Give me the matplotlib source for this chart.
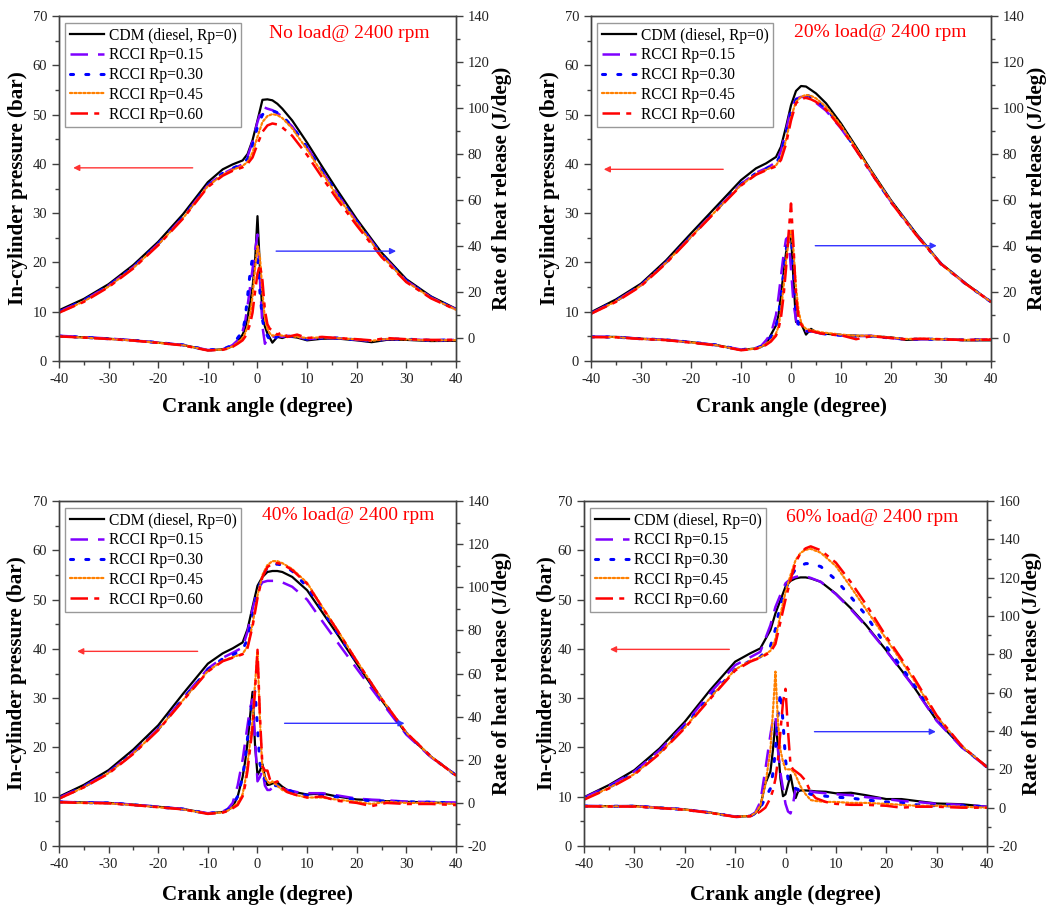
import matplotlib
matplotlib.use("Agg")
import matplotlib.pyplot as plt
from matplotlib.ticker import MultipleLocator

plt.rcParams["font.family"] = ["Liberation Serif", "DejaVu Serif"]
plt.rcParams["axes.unicode_minus"] = False

# crank angle grids (degree)
p_x = [-40, -35, -30, -25, -20, -15, -10, -7, -5, -3, -2, -1, 0, 1, 2, 3, 4, 5, 7, 10,
       13, 16, 20, 25, 30, 35, 40]
h_x = [-40, -35, -30, -25, -20, -15, -10, -7, -6, -5, -4, -3, -2.5, -2, -1.5, -1, -0.5, 0,
       0.5, 1, 1.5, 2, 2.5, 3, 4, 5, 6, 8, 10, 13, 16, 20, 23, 26, 30, 35, 40]

labels = ["CDM (diesel, Rp=0)", "RCCI Rp=0.15", "RCCI Rp=0.30", "RCCI Rp=0.45", "RCCI Rp=0.60"]
titles = ["No load@ 2400 rpm", "20% load@ 2400 rpm", "40% load@ 2400 rpm", "60% load@ 2400 rpm"]

# in-cylinder pressure (bar), rows: CDM, Rp=0.15, 0.30, 0.45, 0.60
p_noload = [
    [10.3, 12.6, 15.6, 19.5, 24.2, 29.8, 36.3, 38.9, 39.9, 40.7, 42.0, 44.8, 48.8, 53.0, 53.1, 52.9, 52.2, 51.2, 48.8, 44.3, 39.5, 34.8, 28.8, 22.0, 16.6, 13.1, 10.6],
    [10.0, 12.3, 15.3, 19.1, 23.8, 29.2, 35.7, 38.0, 39.0, 39.9, 41.5, 44.5, 48.5, 51.6, 51.2, 50.9, 50.3, 49.6, 47.6, 43.4, 38.6, 34.0, 28.3, 21.6, 16.3, 12.9, 10.5],
    [10.0, 12.3, 15.3, 19.1, 23.8, 29.2, 35.7, 38.1, 39.1, 40.0, 41.0, 43.8, 47.5, 50.0, 50.6, 50.8, 50.4, 49.7, 47.6, 43.3, 38.6, 34.0, 28.3, 21.6, 16.3, 12.9, 10.5],
    [9.8, 12.1, 15.1, 18.9, 23.6, 29.0, 35.5, 37.8, 38.8, 39.6, 40.4, 42.3, 45.5, 48.5, 49.7, 50.1, 49.9, 49.3, 47.2, 42.9, 38.2, 33.6, 28.0, 21.4, 16.1, 12.8, 10.4],
    [9.8, 12.0, 15.0, 18.8, 23.5, 28.9, 35.3, 37.6, 38.6, 39.3, 40.0, 41.3, 44.0, 46.5, 47.8, 48.2, 48.0, 47.4, 45.7, 41.8, 37.3, 32.9, 27.5, 21.1, 16.0, 12.7, 10.4],
]
p_load20 = [
    [9.9, 12.5, 15.7, 20.4, 25.9, 31.3, 36.7, 39.1, 40.1, 41.4, 43.5, 47.5, 51.9, 54.8, 55.8, 55.7, 55.0, 54.3, 52.3, 48.2, 43.5, 38.7, 32.6, 25.9, 19.8, 15.7, 12.0],
    [9.7, 12.2, 15.4, 20.0, 25.3, 30.6, 35.9, 38.2, 39.1, 40.3, 42.6, 46.8, 51.2, 53.2, 53.6, 53.5, 53.0, 52.4, 50.8, 47.2, 42.9, 38.3, 32.3, 25.7, 19.7, 15.6, 12.0],
    [9.7, 12.2, 15.4, 20.0, 25.3, 30.6, 35.9, 38.1, 39.0, 40.0, 42.0, 46.0, 50.5, 53.0, 53.8, 54.0, 53.6, 53.0, 51.3, 47.5, 43.0, 38.3, 32.3, 25.7, 19.7, 15.6, 12.0],
    [9.6, 12.1, 15.3, 19.9, 25.2, 30.5, 35.7, 37.9, 38.8, 39.7, 41.2, 44.8, 49.5, 52.6, 53.6, 54.0, 53.8, 53.3, 51.6, 47.8, 43.2, 38.5, 32.4, 25.7, 19.7, 15.6, 12.0],
    [9.6, 12.0, 15.2, 19.8, 25.1, 30.4, 35.6, 37.8, 38.7, 39.5, 40.8, 44.0, 48.8, 52.3, 53.2, 53.4, 53.1, 52.6, 51.0, 47.3, 42.8, 38.2, 32.2, 25.6, 19.7, 15.6, 12.0],
]
p_load40 = [
    [10.0, 12.4, 15.4, 19.6, 24.5, 30.9, 37.0, 39.1, 40.1, 41.3, 44.0, 48.5, 52.8, 54.6, 55.6, 55.8, 55.8, 55.6, 54.6, 51.9, 47.5, 43.1, 37.0, 29.6, 22.8, 18.1, 14.4],
    [9.8, 12.1, 15.0, 19.0, 23.8, 30.0, 36.0, 38.2, 39.2, 40.3, 43.5, 48.0, 52.0, 53.5, 53.8, 53.8, 53.8, 53.5, 52.6, 50.0, 45.7, 41.5, 36.0, 29.2, 22.6, 18.0, 14.4],
    [9.7, 12.0, 14.9, 18.9, 23.7, 29.8, 35.8, 38.0, 38.8, 39.8, 42.0, 46.5, 51.5, 54.8, 56.5, 57.0, 57.2, 57.0, 55.8, 52.6, 48.0, 43.4, 37.3, 29.8, 22.9, 18.1, 14.3],
    [9.6, 11.9, 14.8, 18.8, 23.6, 29.6, 35.5, 37.6, 38.3, 39.0, 40.5, 45.0, 50.8, 55.0, 57.0, 57.8, 57.8, 57.4, 56.2, 53.4, 48.6, 44.0, 37.6, 29.9, 23.0, 18.1, 14.3],
    [9.6, 11.9, 14.7, 18.7, 23.5, 29.5, 35.4, 37.5, 38.2, 38.9, 40.2, 44.5, 50.3, 54.6, 56.6, 57.3, 57.4, 57.2, 56.0, 53.2, 48.5, 43.9, 37.5, 29.9, 23.0, 18.1, 14.3],
]
p_load60 = [
    [9.9, 12.4, 15.4, 19.8, 25.2, 31.6, 37.4, 39.1, 40.1, 43.8, 47.2, 49.9, 52.6, 53.8, 54.3, 54.5, 54.5, 54.3, 53.6, 51.2, 48.2, 44.8, 39.7, 33.0, 25.5, 20.1, 16.1],
    [9.8, 12.2, 15.1, 19.4, 24.7, 31.0, 36.7, 38.3, 39.4, 44.8, 48.5, 51.0, 53.3, 54.2, 54.6, 54.8, 54.7, 54.4, 53.6, 51.1, 48.0, 44.6, 39.6, 32.9, 25.4, 20.0, 16.0],
    [9.6, 11.9, 14.8, 19.0, 24.3, 30.3, 35.8, 37.6, 38.4, 40.5, 44.0, 49.0, 52.0, 54.6, 56.2, 56.9, 57.3, 57.3, 56.7, 54.0, 50.5, 46.8, 40.5, 33.5, 26.0, 20.2, 16.0],
    [9.5, 11.8, 14.6, 18.8, 24.0, 30.0, 35.8, 37.6, 38.3, 39.6, 42.0, 47.0, 51.5, 55.0, 58.0, 59.5, 60.1, 60.3, 59.5, 56.8, 52.5, 48.0, 42.0, 34.5, 26.3, 20.3, 16.0],
    [9.4, 11.7, 14.5, 18.7, 23.9, 29.8, 35.6, 37.4, 38.2, 39.3, 41.0, 45.5, 50.0, 54.0, 57.5, 59.5, 60.4, 60.8, 60.0, 57.5, 53.5, 49.0, 42.5, 35.0, 26.5, 20.3, 16.0],
]

# rate of heat release (J/deg), rows: CDM, Rp=0.15, 0.30, 0.45, 0.60
h_noload = [
    [0.8, 0.3, -0.3, -1.0, -2.0, -3.0, -5.3, -4.9, -4.4, -3.5, -1.5, 1.5, 4, 9, 15, 22, 33, 53, 30, 10, 5, 2, 0, -2, 0.5, 0, 0.8, 0.2, -1, -0.3, -0.2, -1, -1.8, -0.8, -0.8, -1.3, -1.2],
    [1.0, 0.4, -0.2, -1.0, -2.0, -3.0, -5.2, -4.8, -4.2, -3.0, -1, 3, 7, 14, 22, 30, 38, 45, 25, 5, -2.5, 0, 1, 0.5, 1, 0.5, 1, 0.5, -0.5, 0, 0, -0.8, -1.2, -0.5, -0.5, -1, -0.8],
    [0.8, 0.3, -0.3, -1.0, -2.0, -3.0, -5.2, -4.8, -4.0, -2.8, 0, 3, 8, 18, 28, 35, 36, 34, 20, 8, 3, 1, -1, -2, 1, 0, 0.8, 0.5, -0.5, 0, 0, -0.8, -1.3, -0.5, -0.5, -1, -0.8],
    [0.7, 0.2, -0.4, -1.1, -2.1, -3.1, -5.3, -5.0, -4.5, -3.6, -2, 0, 2, 5, 10, 18, 30, 40, 35, 20, 8, 4, 2, 1, 1.5, 1, 1, 0.5, 0, 0.3, 0, -0.6, -1.2, -0.4, -0.6, -1, -0.9],
    [0.7, 0.2, -0.4, -1.1, -2.1, -3.2, -5.4, -5.1, -4.6, -3.8, -2.5, -1, 0.5, 3, 6, 11, 20, 28, 32, 25, 12, 6, 4, 3.5, 1.5, 2.5, 0.5, 1.5, 0, 0.5, 0, -0.5, -1, 0, -0.5, -0.8, -0.8],
]
h_load20 = [
    [0.5, 0.5, -0.3, -0.8, -1.8, -3.0, -5.2, -4.5, -3.8, -2.8, 1.5, 5.5, 10, 19, 28, 37, 42, 45, 25, 7, 6.8, 6.5, 4, 1.5, 4, 2.5, 2, 1.7, 1.3, 1.0, 0.8, 0.3, -0.8, -0.5, -0.5, -1.0, -1.0],
    [0.6, 0.5, -0.3, -0.8, -1.8, -3.0, -5.0, -4.3, -3.5, -1, 2, 10, 18, 27, 36, 43, 44, 30, 15, 8, 5, 4, 3.5, 3, 3, 2.5, 2, 1.5, 1.2, 0.8, 1, 0, -0.5, -0.5, -0.5, -0.8, -0.5],
    [0.5, 0.4, -0.3, -0.8, -1.8, -3.0, -5.1, -4.4, -3.7, -2, 0.5, 5, 10, 18, 28, 38, 44, 46, 30, 12, 6, 4, 3.5, 3, 3, 2.5, 2, 1.5, 1.2, 0.8, 0.8, 0, -0.5, -0.5, -0.5, -0.8, -0.6],
    [0.5, 0.4, -0.4, -0.9, -1.9, -3.1, -5.2, -4.6, -3.9, -2.5, -1, 2, 5, 12, 22, 33, 42, 47, 38, 22, 12, 7, 5, 4, 3.5, 3, 2.5, 2, 1.5, 1, 1, 0.2, -0.4, -0.3, -0.5, -0.8, -0.6],
    [0.4, 0.3, -0.4, -0.9, -2.0, -3.2, -5.3, -4.7, -4.0, -3, -1.5, 1, 4, 9, 18, 30, 45, 58.5, 40, 18, 9, 6, 4.5, 3.5, 3, 2.5, 2, 1.5, 1.2, -0.5, 0.8, 0, -0.6, -0.3, -0.5, -0.9, -0.7],
]
h_load40 = [
    [0.5, 0.2, 0, -0.8, -1.8, -2.8, -4.9, -4.2, -3.3, -1.8, 2.9, 12, 19, 28, 40, 51.5, 27, 13, 15, 18, 12, 8.3, 8.5, 9, 9.5, 7.5, 6, 4.8, 3.9, 4.4, 3.0, 1.6, 1.3, 0.8, 0.5, 0.2, -0.2],
    [0.5, 0.2, 0, -0.8, -1.8, -2.8, -4.8, -4.0, -2.8, 0, 8, 20, 28, 36, 44, 48, 30, 10, 12, 15, 8, 6, 6, 7, 7, 6.5, 6, 5, 4.5, 4.5, 3.5, 2.0, 1.5, 1.2, 0.6, 0.4, 0.2],
    [0.4, 0.1, 0, -0.9, -1.9, -2.9, -4.9, -4.2, -3.2, -1, 3, 12, 20, 30, 40, 48, 52, 35, 18, 14, 11, 9, 8, 8, 8, 7, 6, 4.5, 3.5, 3.5, 2.8, 1.5, 1, 0.8, 0.5, 0.3, 0],
    [0.3, 0, -0.2, -1.0, -2.0, -3.0, -5.0, -4.4, -3.6, -2, 0, 4, 10, 18, 28, 38, 55, 70, 38, 15, 12, 10, 9, 10, 8, 6, 5, 3.5, 2.5, 2.5, 1.5, 0.5, -0.5, 0.5, 0, 0, -0.5],
    [0.3, 0, -0.2, -1.0, -2.0, -3.0, -5.1, -4.5, -3.8, -2.5, -1, 3, 8, 15, 25, 35, 52, 71, 40, 17, 15, 15, 11, 9, 10, 7, 5, 3.5, 2.5, 3, 1, 0, -1.5, 0, -0.5, -0.5, -1],
]
h_load60 = [
    [0.9, 0.8, 0.9, 0, -0.9, -2.5, -4.7, -4.4, -3.0, 0.5, 12.7, 18.8, 30, 45, 32, 15, 6, 7, 12, 17, 10, 5, 8.5, 9, 9, 8.8, 8.5, 8.3, 7.5, 7.8, 6.5, 4.5, 4.5, 3.5, 2.2, 1.8, 0.5],
    [0.9, 0.8, 0.8, 0, -0.9, -2.5, -4.6, -4.2, -2.5, 3, 20, 38, 46, 48, 30, 18, 10, 2, -2, -3, 2, 10, 9, 8.5, 8.5, 8.5, 8, 7.5, 7, 6.5, 5.5, 4.5, 3.5, 3, 2, 1.5, 0.5],
    [0.8, 0.7, 0.8, -0.1, -1.0, -2.6, -4.7, -4.4, -3.0, 0, 5, 10, 18, 30, 48, 60, 45, 25, 15, 12, 11, 10, 9.5, 9, 8, 7, 6.5, 6, 5.5, 5, 4, 3, 2.5, 1.5, 1, 1, 0.5],
    [0.8, 0.7, 0.7, -0.1, -1.0, -2.6, -4.7, -4.3, -2.8, 1, 12, 30, 50, 71, 45, 30, 24, 20, 20, 20, 19, 17, 14, 11, 7, 4, 3.5, 3, 3, 2.5, 2.5, 2, 1.5, 1, 1, 0.5, 0],
    [0.7, 0.6, 0.6, -0.2, -1.1, -2.7, -4.8, -4.5, -3.5, -2, 0, 5, 9, 15, 25, 40, 55, 62, 40, 22, 20, 19, 18, 17, 14, 8, 5, 3, 2, 1.5, 1.5, 1, 0, 0.5, 0.5, 0, 0],
]

pressures = [p_noload, p_load20, p_load40, p_load60]
hrrs = [h_noload, h_load20, h_load40, h_load60]
hrr_lims = [(-10, 140), (-10, 140), (-20, 140), (-20, 160)]
# arrows (x_start, x_end, y) in pressure units
red_arrows = [(-12.5, -37.7, 39.2), (-13.0, -38.0, 38.9), (-11.5, -36.9, 39.5), (-10.6, -35.4, 39.9)]
blue_arrows = [(3.2, 28.5, 22.3), (4.3, 29.7, 23.4), (4.9, 30.2, 24.9), (5.2, 30.4, 23.2)]

colors = ["black", "#7F00FF", "#0000FF", "#FF8000", "#FF0000"]
styles = ["-", (0, (7, 4)), (0, (1, 4)), (0, (1, 1)), (0, (7, 2.5, 2, 2.5))]
widths = [1.6, 1.8, 2.2, 1.6, 1.8]

boxes = [
    [0.0558, 0.6015, 0.3756, 0.3808],
    [0.5591, 0.6015, 0.3785, 0.3808],
    [0.0558, 0.0662, 0.3756, 0.3808],
    [0.5525, 0.0662, 0.3813, 0.3808],
]
title_pos = [(0.731, 0.95), (0.723, 0.953), (0.728, 0.957), (0.715, 0.953)]
ylab_x = [(-0.078, 1.091), (-0.0775, 1.089), (-0.080, 1.090), (-0.068, 1.086)]
xlab_y = [-0.104, -0.104, -0.113, -0.113]

spine_col = "#404040"

fig = plt.figure(figsize=(10.57, 9.06), dpi=100)

for i in range(4):
    ax = fig.add_axes(boxes[i])
    ax2 = ax.twinx()

    handles = []
    for k in range(5):
        cap = "round" if k in (2, 3) else "butt"
        ln, = ax.plot(p_x, pressures[i][k], color=colors[k], ls=styles[k], lw=widths[k],
                      dash_capstyle=cap)
        ax2.plot(h_x, hrrs[i][k], color=colors[k], ls=styles[k], lw=widths[k],
                 dash_capstyle=cap)
        handles.append(ln)

    ax.set_xlim(-40, 40)
    ax.set_ylim(0, 70)
    ax2.set_ylim(*hrr_lims[i])

    ax.xaxis.set_major_locator(MultipleLocator(10))
    ax.xaxis.set_minor_locator(MultipleLocator(5))
    ax.yaxis.set_major_locator(MultipleLocator(10))
    ax.yaxis.set_minor_locator(MultipleLocator(5))
    ax2.yaxis.set_major_locator(MultipleLocator(20))
    ax2.yaxis.set_minor_locator(MultipleLocator(10))

    for a in (ax, ax2):
        a.tick_params(which="major", direction="out", length=5, width=1,
                      color=spine_col, labelsize=10.5, labelcolor="#222222")
        a.tick_params(which="minor", direction="out", length=3, width=1, color=spine_col)
        for s in a.spines.values():
            s.set_color(spine_col)
            s.set_linewidth(1.0)

    ax.set_xlabel("Crank angle (degree)", fontsize=15.2, fontweight="bold")
    ax.set_ylabel("In-cylinder pressure (bar)", fontsize=15.2, fontweight="bold")
    ax2.set_ylabel("Rate of heat release (J/deg)", fontsize=15.2, fontweight="bold")
    ax.xaxis.set_label_coords(0.5, xlab_y[i])
    ax.yaxis.set_label_coords(ylab_x[i][0], 0.5)
    ax2.yaxis.set_label_coords(ylab_x[i][1], 0.5)

    ax.text(title_pos[i][0], title_pos[i][1], titles[i], transform=ax.transAxes,
            color="#FF0000", fontsize=14, ha="center", va="center", zorder=10)

    rx0, rx1, ry = red_arrows[i]
    ax.annotate("", xy=(rx1, ry), xytext=(rx0, ry),
                arrowprops=dict(arrowstyle="-|>", color="#FF3333", lw=1.0, mutation_scale=9))
    bx0, bx1, by = blue_arrows[i]
    ax.annotate("", xy=(bx1, by), xytext=(bx0, by),
                arrowprops=dict(arrowstyle="-|>", color="#3333FF", lw=1.0, mutation_scale=9))

    leg = ax2.legend(handles, labels, loc="upper left", bbox_to_anchor=(0.016, 0.98),
                     fontsize=11.2, handlelength=2.2, labelspacing=0.24, handletextpad=0.3,
                     borderpad=0.3, borderaxespad=0.0, fancybox=False, framealpha=1)
    leg.get_frame().set_edgecolor("#999999")
    leg.get_frame().set_linewidth(1.0)

fig.savefig("out.png", dpi=100)
